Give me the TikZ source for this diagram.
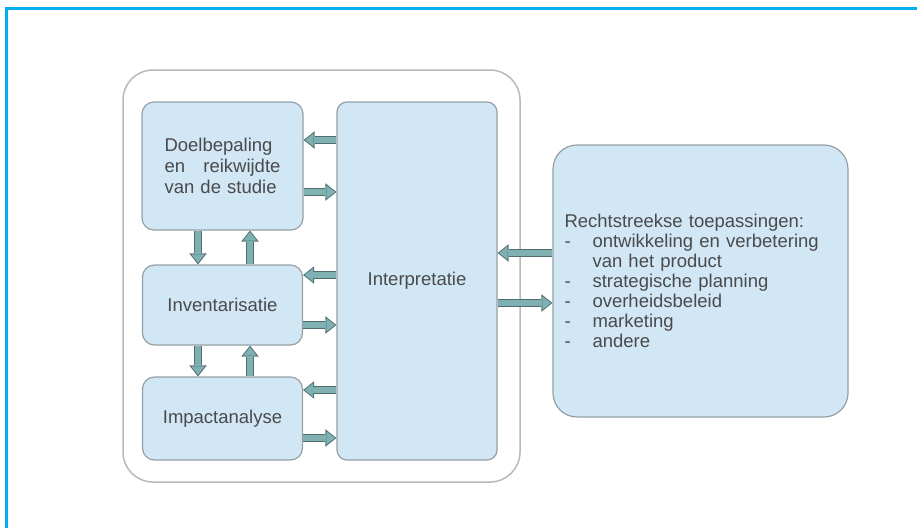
\documentclass[tikz,border=0pt]{standalone}
\usepackage{fontspec}
\setmainfont{Liberation Sans}
\usetikzlibrary{arrows.meta,positioning}
\definecolor{kaderblauw}{HTML}{00AEEF}
\definecolor{vakvul}{HTML}{D2E7F5}
\definecolor{vaklijn}{HTML}{959FA5}
\definecolor{pijlvul}{HTML}{7FB1B3}
\definecolor{pijllijn}{HTML}{4E6E70}
\definecolor{tekst}{HTML}{4A4A4A}
\newcommand\streep{\makebox[28pt][l]{-}}
\tikzset{
  vak/.style={draw=vaklijn, line width=1.2pt, fill=vakvul, rounded corners=12pt, text=tekst},
  pijl/.style={draw=pijlvul, line width=5.8pt, shorten >=1.5pt,
    -{Triangle[width=13.5pt,length=8.5pt,line width=0pt]},
    preaction={draw=pijllijn, line width=8.2pt, shorten >=0pt,
      -{Triangle[width=17.5pt,length=11pt,line width=0pt]}}}
}

\begin{document}
\begin{tikzpicture}[x=1pt,y=-1pt,font=\fontsize{18.5}{21}\selectfont]
  \useasboundingbox (0,0) rectangle (917,528);
  \draw[kaderblauw, line width=3pt] (6,528) -- (6,8) -- (917,8);
  \node[draw=gray!55, line width=1.5pt, rounded corners=30pt, minimum width=397pt,
    minimum height=412pt] (kader) at (321.5,276) {};

  \node[vak, minimum width=161pt, minimum height=128pt, text width=116pt, align=left]
    (doel) at (222.5,166) {Doelbepaling\\en\hfill reikwijdte\\van de studie};
  \node[vak, minimum width=160pt, minimum height=80pt] (invent) at (222.5,305) {Inventarisatie};
  \node[vak, minimum width=160pt, minimum height=83pt] (impact) at (222.5,418.5) {Impactanalyse};
  \node[vak, rounded corners=10pt, minimum width=160pt, minimum height=358pt]
    (interp) at (417,281) {Interpretatie};
  \node[vak, rounded corners=24pt, minimum width=295pt, minimum height=272pt,
    text width=272pt, align=left, font=\fontsize{18.5}{20}\selectfont]
    (toep) at (700.5,281) {Rechtstreekse toepassingen:\\
      \streep ontwikkeling en verbetering\\
      \makebox[28pt]{}van het product\\
      \streep strategische planning\\
      \streep overheidsbeleid\\
      \streep marketing\\
      \streep andere};

  \foreach \vak/\links/\rechts in {doel/26/-26, invent/30/-20, impact/28.5/-19.5}{
    \coordinate (l) at ([yshift=\links pt]\vak.east);
    \coordinate (r) at ([yshift=\rechts pt]\vak.east);
    \draw[pijl] (interp.west |- l) -- (l);
    \draw[pijl] (r) -- (interp.west |- r);
  }
  \foreach \boven/\onder in {doel/invent, invent/impact}{
    \coordinate (n) at ([xshift=-24.5pt]\boven.south);
    \coordinate (m) at ([xshift=27.5pt]\onder.north);
    \draw[pijl] (n) -- (n |- \onder.north);
    \draw[pijl] (m) -- (m |- \boven.south);
  }
  \coordinate (t1) at ([yshift=28pt]toep.west);
  \coordinate (t2) at ([yshift=-22pt]toep.west);
  \draw[pijl] (t1) -- (interp.east |- t1);
  \draw[pijl] (interp.east |- t2) -- (t2);
\end{tikzpicture}
\end{document}
